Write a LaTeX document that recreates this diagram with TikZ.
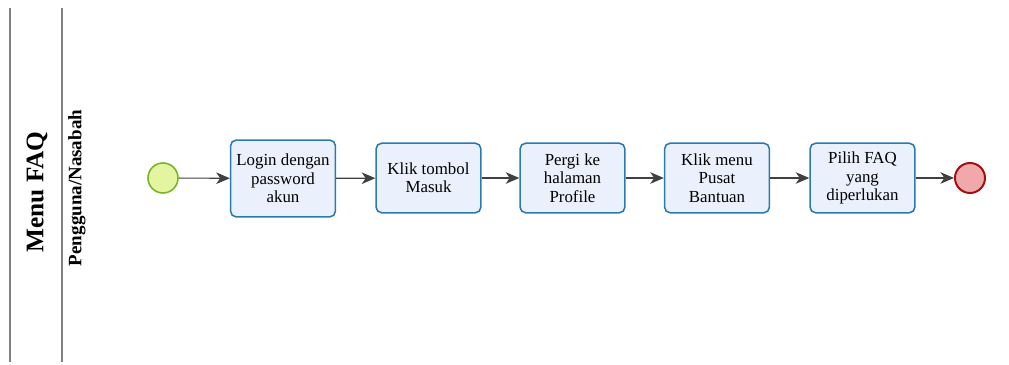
\documentclass[tikz,border=0pt]{standalone}
\usepackage{fontspec}
\setmainfont{Liberation Serif}
\usetikzlibrary{arrows.meta,positioning}
\definecolor{tskfill}{HTML}{EAF0FC}
\definecolor{tskdraw}{HTML}{2A7AB0}
\definecolor{stfill}{HTML}{E4F5A2}
\definecolor{stdraw}{HTML}{78B41E}
\definecolor{enfill}{HTML}{F0A8AA}
\definecolor{endraw}{HTML}{A50E0E}
\tikzset{
  tsk/.style={rectangle,rounded corners=4pt,draw=tskdraw,fill=tskfill,line width=1.1pt,
    minimum width=2.62cm,minimum height=1.74cm,inner sep=2pt,align=center,
    font=\fontsize{12}{13}\selectfont},
  tskb/.style={tsk,minimum height=1.92cm},
  evs/.style={circle,draw=stdraw,fill=stfill,minimum size=0.75cm,inner sep=0pt,line width=1.1pt},
  eve/.style={circle,draw=endraw,fill=enfill,minimum size=0.75cm,inner sep=0pt,line width=1.4pt},
  flw/.style={-{Stealth[length=3.4mm,width=2.9mm,inset=1mm]},line width=.8pt,draw=black!75},
  lane/.style={draw=black!50,line width=.9pt},
  lnt/.style={font=\bfseries\fontsize{18}{20}\selectfont,rotate=90},
  lns/.style={font=\bfseries\fontsize{13.5}{15}\selectfont,rotate=90},
}
\begin{document}
\begin{tikzpicture}[x=0.025cm,y=-0.025cm]
\useasboundingbox (0,0) rectangle (1009,365);
% pool and lane
\coordinate (p1) at (10,8); \coordinate (p2) at (10,362);
\coordinate (q1) at (62,8); \coordinate (q2) at (62,362);
\draw[lane] (p1)--(p2) (q1)--(q2);
\node[lnt] (pool) at (37,192) {Menu FAQ};
\node[lns] (role) at (77,188) {Pengguna/Nasabah};
% flow
\node[evs] (start) at (163,178) {};
\node[tskb] (t1) at (283,178.5) {Login dengan\\ password\\ akun};
\node[tsk] (t2) at (428.5,178) {Klik tombol\\ Masuk};
\node[tsk] (t3) at (572.5,178) {Pergi ke\\ halaman\\ Profile};
\node[tsk] (t4) at (717,178) {Klik menu\\ Pusat\\ Bantuan};
\node[tsk] (t5) at (862.5,178) {Pilih FAQ\\ yang\\ diperlukan};
\node[eve] (stop) at (970,178) {};
\draw[flw] (start)--(t1);
\draw[flw] (t1)--(t2);
\draw[flw] (t2)--(t3);
\draw[flw] (t3)--(t4);
\draw[flw] (t4)--(t5);
\draw[flw] (t5)--(stop);
\end{tikzpicture}
\end{document}
